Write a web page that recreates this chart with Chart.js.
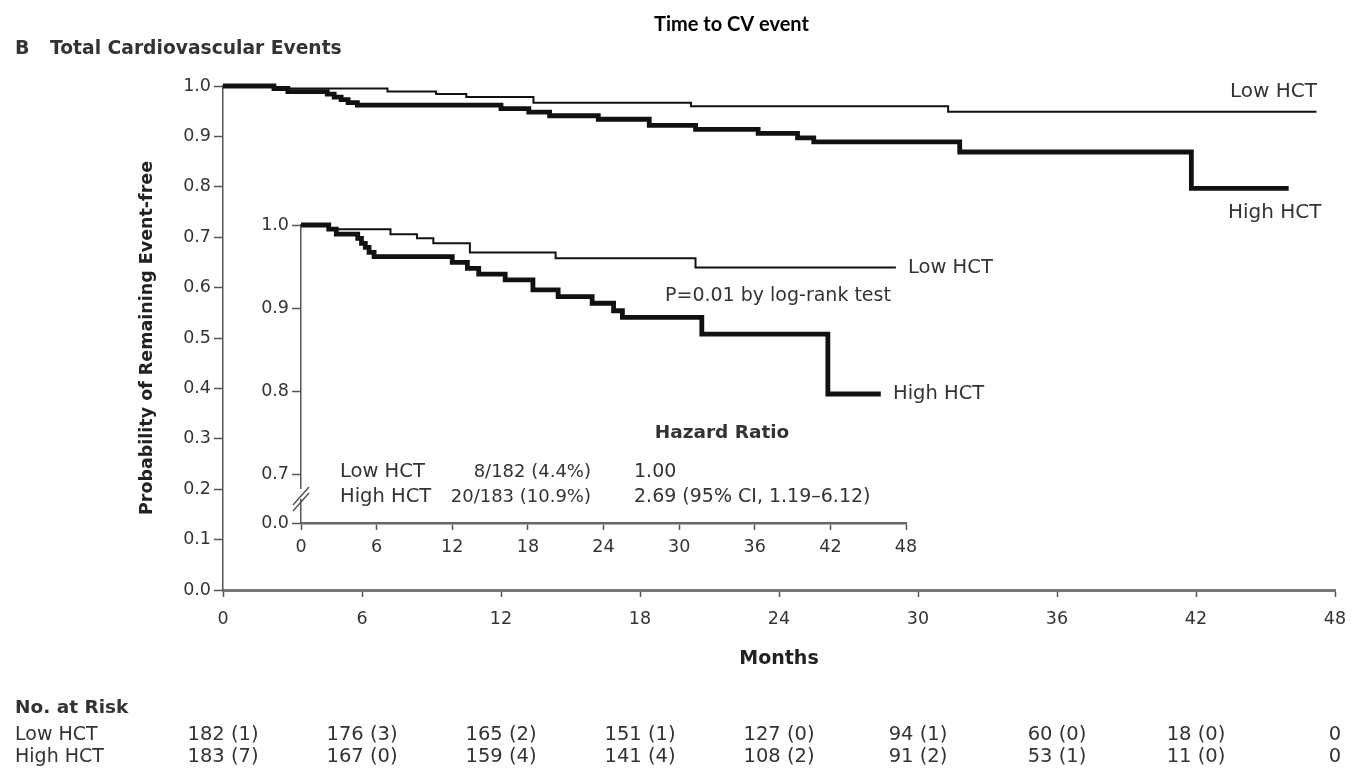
<!DOCTYPE html>
<html><head><meta charset="utf-8">
<script src="https://cdn.jsdelivr.net/npm/chart.js@4/dist/chart.umd.min.js"></script>
<style>
html,body{margin:0;padding:0;background:#fff;}
#wrap{position:relative;width:1353px;height:771px;background:#fff;}
#main{position:absolute;left:0;top:0;}
#inset{position:absolute;left:230px;top:195px;}
</style></head><body>
<div id="wrap">
<canvas id="main" width="1353" height="771"></canvas>
<canvas id="inset" width="800" height="380"></canvas>
</div>
<script>
// ---- data ----
const lowTimes  = [0, 2.2, 7.1, 9.2, 10.5, 13.4, 20.2, 31.3, 47.2];
const lowSurv   = [1.0, 0.995, 0.989, 0.984, 0.978, 0.967, 0.960, 0.949, 0.949];
const highTimes = [0, 2.2, 2.8, 4.5, 4.8, 5.1, 5.4, 5.8, 12.0, 13.2, 14.1, 16.2, 18.4, 20.4, 23.1, 24.8, 25.5, 31.8, 41.8, 46.0];
const highSurv  = [1.0, 0.995, 0.989, 0.984, 0.978, 0.973, 0.967, 0.962, 0.955, 0.948, 0.941, 0.934, 0.922, 0.914, 0.906, 0.897, 0.889, 0.869, 0.797, 0.797];

const mainXTicks = [0, 6, 12, 18, 24, 30, 36, 42, 48];
const mainYTicks = [0, 0.1, 0.2, 0.3, 0.4, 0.5, 0.6, 0.7, 0.8, 0.9, 1.0];
const insetXTicks = [0, 6, 12, 18, 24, 30, 36, 42, 48];
const insetYTicks = [0.642, 0.7, 0.8, 0.9, 1.0];
const insetYTickLabels = ['0.0', '0.7', '0.8', '0.9', '1.0'];

const riskTimes = [0, 6, 12, 18, 24, 30, 36, 42, 48];
const riskGroups = ['Low HCT', 'High HCT'];
const lowRisk  = ['182 (1)', '176 (3)', '165 (2)', '151 (1)', '127 (0)', '94 (1)', '60 (0)', '18 (0)', '0'];
const highRisk = ['183 (7)', '167 (0)', '159 (4)', '141 (4)', '108 (2)', '91 (2)', '53 (1)', '11 (0)', '0'];

const hrRows = [
  ['Low HCT', '8/182 (4.4%)', '1.00'],
  ['High HCT', '20/183 (10.9%)', '2.69 (95% CI, 1.19\u20136.12)']
];

// ---- helpers ----
const FONT = '"DejaVu Sans"';
const TITLEFONT = 'Lato';
const TXT = '#333';
function km(t, s) { return t.map((x, i) => ({x: x, y: s[i]})); }
function ds(label, t, s, w) {
  return {label: label, data: km(t, s), stepped: true, borderColor: '#111', borderWidth: w,
          pointRadius: 0, fill: false, clip: false, borderCapStyle: 'butt', borderJoinStyle: 'miter'};
}
function txt(ctx, s, x, y, size, bold, align, family) {
  ctx.save();
  ctx.font = (bold ? 'bold ' : '') + size + 'px ' + (family || FONT);
  ctx.fillStyle = TXT;
  ctx.textAlign = align || 'left';
  ctx.textBaseline = 'middle';
  ctx.fillText(s, x, y);
  ctx.restore();
}

// ---- main chart ----
const mainText = {
  id: 'mainText',
  afterDraw(chart) {
    const ctx = chart.ctx;
    txt(ctx, 'B', 15, 49, 19, true);
    txt(ctx, 'Total Cardiovascular Events', 50, 49, 18.7, true);
    txt(ctx, 'Low HCT', 1230, 92, 20, false);
    txt(ctx, 'High HCT', 1228, 213, 20, false);
    txt(ctx, 'No. at Risk', 15, 708, 18.5, true);
    const xs = chart.scales.x;
    const rows = [lowRisk, highRisk];
    const ys = [735, 757];
    rows.forEach((r, k) => {
      txt(ctx, riskGroups[k], 15, ys[k], 19, false);
      r.forEach((v, i) => txt(ctx, v, xs.getPixelForValue(riskTimes[i]), ys[k], 19.5, false, 'center'));
    });
  }
};

new Chart(document.getElementById('main'), {
  type: 'line',
  data: {datasets: [ds('Low HCT', lowTimes, lowSurv, 2), ds('High HCT', highTimes, highSurv, 4.8)]},
  options: {
    responsive: false, animation: false, events: [],
    layout: {padding: {left: 128, right: 18, top: 0, bottom: 101}},
    plugins: {
      legend: {display: false}, tooltip: {enabled: false},
      title: {display: true, text: 'Time to CV event', color: '#000',
              font: {family: TITLEFONT, size: 20, weight: 'bold'}, padding: {top: 13, bottom: 49}}
    },
    scales: {
      x: {
        type: 'linear', min: 0, max: 48,
        afterBuildTicks: s => { s.ticks = mainXTicks.map(v => ({value: v})); },
        afterFit: s => { s.height = 80; s.paddingLeft = 0; s.paddingRight = 0; },
        grid: {drawOnChartArea: false, drawTicks: true, tickLength: 7, color: '#555', tickWidth: 1.5},
        border: {display: true, color: '#777', width: 3},
        ticks: {color: TXT, font: {family: FONT, size: 17.5}, padding: 12, maxRotation: 0, autoSkip: false},
        title: {display: true, text: 'Months', color: '#222', font: {family: FONT, size: 19, weight: 'bold'}, padding: {top: 0, bottom: 0}}
      },
      y: {
        min: 0, max: 1,
        afterBuildTicks: s => { s.ticks = mainYTicks.map(v => ({value: v})); },
        afterFit: s => { s.width = 95; },
        grid: {drawOnChartArea: false, drawTicks: true, tickLength: 9, color: '#555', tickWidth: 1.5},
        border: {display: true, color: '#555', width: 1.5},
        ticks: {color: TXT, font: {family: FONT, size: 17.5}, padding: 3, callback: v => v.toFixed(1)},
        title: {display: true, text: 'Probability of Remaining Event-free', color: '#222',
                font: {family: FONT, size: 17.5, weight: 'bold'}, padding: {top: 9, bottom: 0}}
      }
    }
  },
  plugins: [mainText]
});

// ---- inset chart ----
const insetText = {
  id: 'insetText',
  afterDraw(chart) {
    const ctx = chart.ctx;
    const ax = chart.scales.y.left + chart.scales.y.width; // axis x
    // axis break marks
    ctx.save();
    ctx.fillStyle = '#fff';
    ctx.fillRect(ax - 3, 294, 6, 10);
    ctx.strokeStyle = '#555';
    ctx.lineWidth = 1.5;
    ctx.beginPath();
    ctx.moveTo(ax - 8, 310); ctx.lineTo(ax + 8, 292);
    ctx.moveTo(ax - 8, 316); ctx.lineTo(ax + 8, 298);
    ctx.stroke();
    ctx.restore();

    txt(ctx, 'Low HCT', 678, 73, 19.5, false);
    txt(ctx, 'High HCT', 663, 199, 19.5, false);
    txt(ctx, 'P=0.01 by log-rank test', 435, 101, 19, false);
    txt(ctx, 'Hazard Ratio', 492, 238, 18.5, true, 'center');
    const ys = [277, 302];
    hrRows.forEach((r, k) => {
      txt(ctx, r[0], 110, ys[k], 19.5, false);
      txt(ctx, r[1], 361, ys[k], 18, false, 'right');
      txt(ctx, r[2], 404, ys[k], 19, false);
    });
  }
};

new Chart(document.getElementById('inset'), {
  type: 'line',
  data: {datasets: [ds('Low HCT', lowTimes, lowSurv, 2), ds('High HCT', highTimes, highSurv, 4.8)]},
  options: {
    responsive: false, animation: false, events: [],
    layout: {padding: {left: 0, right: 124, top: 30, bottom: 12}},
    plugins: {legend: {display: false}, tooltip: {enabled: false}},
    scales: {
      x: {
        type: 'linear', min: 0, max: 48,
        afterBuildTicks: s => { s.ticks = insetXTicks.map(v => ({value: v})); },
        afterFit: s => { s.height = 40; s.paddingLeft = 0; s.paddingRight = 0; },
        grid: {drawOnChartArea: false, drawTicks: true, tickLength: 7, color: '#555', tickWidth: 1.5},
        border: {display: true, color: '#666', width: 2.5},
        ticks: {color: TXT, font: {family: FONT, size: 17.5}, padding: 7, maxRotation: 0, autoSkip: false}
      },
      y: {
        min: insetYTicks[0], max: 1,
        afterBuildTicks: s => { s.ticks = insetYTicks.map(v => ({value: v})); },
        afterFit: s => { s.width = 71; },
        grid: {drawOnChartArea: false, drawTicks: true, tickLength: 9, color: '#555', tickWidth: 1.5},
        border: {display: true, color: '#555', width: 1.5},
        ticks: {color: TXT, font: {family: FONT, size: 17.5}, padding: 3,
                callback: (v, i) => insetYTickLabels[i]}
      }
    }
  },
  plugins: [insetText]
});
</script>
</body></html>
